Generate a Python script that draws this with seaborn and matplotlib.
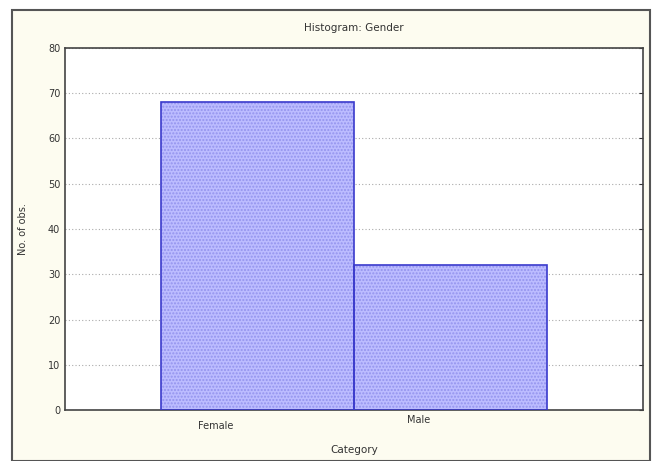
import pandas as pd
import matplotlib.pyplot as plt
import matplotlib.transforms as mtrans
from matplotlib.patches import Rectangle
import seaborn as sns

categories = ['Female', 'Male']
counts = [68, 32]

df = pd.DataFrame({'Category': categories, 'count': counts})

sns.set_style('white')
plt.rcParams['font.family'] = ['DejaVu Sans']

fig = plt.figure(figsize=(6.52, 4.61), dpi=100)
fig.patch.set_facecolor('white')
# cream panel with dark frame, like the original window
fig.patches.append(Rectangle((12 / 652, 0), 638 / 652, 451 / 461, transform=fig.transFigure,
                             facecolor='#fdfcf0', edgecolor='#555555', linewidth=1.5, zorder=-5))

ax = fig.add_axes([65 / 652, 51 / 461, 578 / 652, 362 / 461])
ax.set_facecolor('white')

# filled, dotted bars
sns.barplot(data=df, x='Category', y='count', ax=ax, width=1,
            color='#bcbcff', saturation=1, edgecolor='#9393ee', linewidth=0, zorder=2)
for p in ax.patches:
    p.set_hatch('.....')
# outline on top
sns.barplot(data=df, x='Category', y='count', ax=ax, width=1,
            fill=False, edgecolor='#3a3acc', linewidth=1.2, zorder=3)

ax.set_xlim(-1, 2)
ax.set_ylim(0, 80)
ax.set_yticks(range(0, 81, 10))
ax.yaxis.grid(True, linestyle=(0, (1, 2)), color='#aaaaaa', linewidth=0.8)
ax.set_axisbelow(True)

for s in ax.spines.values():
    s.set_color('#444444')
    s.set_linewidth(1.2)

ax.tick_params(axis='y', length=3, direction='in', labelsize=7, colors='#333333', right=True)
ax.tick_params(axis='x', length=3, direction='in', labelsize=7, colors='#333333')

# the labels sit left of the bar centres and staggered, as in the original
offsets = [(-42, -6), (-32, 0)]
for lab, (dx, dy) in zip(ax.get_xticklabels(), offsets):
    lab.set_transform(lab.get_transform() + mtrans.ScaledTranslation(dx / 100, dy / 100, fig.dpi_scale_trans))

ax.set_xlabel('Category', fontsize=7.5, color='#333333', labelpad=10)
ax.set_ylabel('No. of obs.', fontsize=7, color='#333333', labelpad=14)
ax.set_title('Histogram: Gender', fontsize=7.5, color='#333333', pad=12)

fig.savefig('out.png', dpi=100, facecolor=fig.get_facecolor())
